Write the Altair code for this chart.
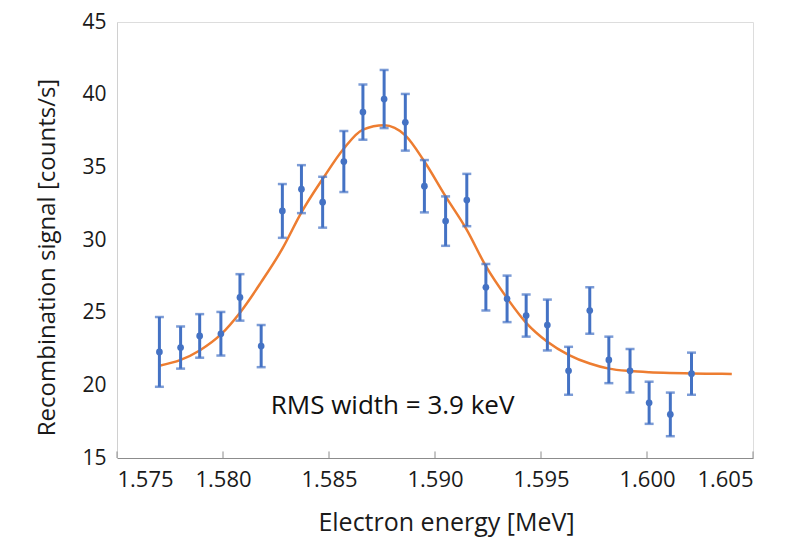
import altair as alt
import pandas as pd

# data points (Electron energy [MeV], signal [counts/s], error)
energy = [1.5770, 1.5780, 1.5789, 1.5799, 1.5808, 1.5818, 1.5828, 1.5837, 1.5847,
          1.5857, 1.5866, 1.5876, 1.5886, 1.5895, 1.5905, 1.5915, 1.5924, 1.5934,
          1.5943, 1.5953, 1.5963, 1.5973, 1.5982, 1.5992, 1.6001, 1.6011, 1.6021]
signal = [22.3, 22.6, 23.4, 23.55, 26.05, 22.7, 32.0, 33.5, 32.6,
          35.4, 38.8, 39.7, 38.1, 33.7, 31.3, 32.75, 26.75, 25.95,
          24.8, 24.15, 21.0, 25.15, 21.75, 21.0, 18.8, 18.0, 20.8]
error = [2.4, 1.45, 1.5, 1.5, 1.6, 1.45, 1.85, 1.65, 1.75,
         2.1, 1.9, 2.0, 1.95, 1.8, 1.7, 1.8, 1.6, 1.6,
         1.45, 1.75, 1.65, 1.6, 1.6, 1.5, 1.45, 1.5, 1.45]

# fitted curve
fit_energy = [1.5770, 1.5780, 1.5789, 1.5799, 1.5808, 1.5818, 1.5828, 1.5837, 1.5847,
              1.5857, 1.5866, 1.5876, 1.5886, 1.5895, 1.5905, 1.5915, 1.5924, 1.5934,
              1.5943, 1.5953, 1.5963, 1.5973, 1.5982, 1.5992, 1.6001, 1.6011, 1.6021,
              1.6030, 1.6040]
fit_signal = [21.35, 21.75, 22.4, 23.5, 25.0, 27.1, 29.4, 31.9, 34.2,
              36.3, 37.6, 37.9, 37.2, 35.4, 33.0, 30.7, 28.2, 26.0,
              24.3, 23.0, 22.1, 21.5, 21.15, 20.98, 20.9, 20.85, 20.82,
              20.8, 20.78]

x_ticks = [1.575, 1.580, 1.585, 1.590, 1.595, 1.600, 1.605]
y_ticks = [15, 20, 25, 30, 35, 40, 45]

annotation = ["RMS width = 3.9 keV"]
ann_x = [1.5880]
ann_y = [18.6]

pts = pd.DataFrame({"x": energy, "y": signal, "e": error})
pts["lo"] = pts["y"] - pts["e"]
pts["hi"] = pts["y"] + pts["e"]
fit = pd.DataFrame({"x": fit_energy, "y": fit_signal})
ann = pd.DataFrame({"x": ann_x, "y": ann_y, "t": annotation})
ticks = pd.DataFrame({"x": x_ticks})

BLUE = "#4472C4"
ORANGE = "#ED7D31"
FONT = "Open Sans"
TXT = "#1A1A1A"

xscale = alt.Scale(domain=[1.575, 1.605], nice=False, zero=False)
yscale = alt.Scale(domain=[15, 45], nice=False, zero=False)

xax = alt.Axis(title="Electron energy [MeV]", values=x_ticks,
               format=".3f", grid=False, domainColor="#8C8C8C", ticks=False,
               labelPadding=11, labelFontSize=22, titleFontSize=25,
               labelColor=TXT, titleColor=TXT, labelFont=FONT, titleFont=FONT,
               titlePadding=20, titleFontWeight="normal", titleX=329)
yax = alt.Axis(title="Recombination signal  [counts/s]", values=y_ticks,
               grid=False, domainColor="#D0D0D0", ticks=False, labelPadding=11,
               labelFontSize=21, titleFontSize=24, labelColor=TXT, titleColor=TXT,
               labelFont=FONT, titleFont=FONT, titlePadding=22, titleFontWeight="normal",
               titleY=235)

line = alt.Chart(fit).mark_line(color=ORANGE, strokeWidth=2.5, interpolate="monotone").encode(
    x=alt.X("x:Q", scale=xscale, axis=xax), y=alt.Y("y:Q", scale=yscale, axis=yax))

tickmarks = alt.Chart(ticks).mark_rule(color="#8C8C8C", strokeWidth=1).encode(
    x="x:Q", y=alt.datum(15), y2=alt.datum(15.45))

bars = alt.Chart(pts).mark_rule(color=BLUE, strokeWidth=3).encode(
    x="x:Q", y="lo:Q", y2="hi:Q")
cap_hi = alt.Chart(pts).mark_tick(color=BLUE, size=9, thickness=2.5, orient="horizontal").encode(
    x="x:Q", y="hi:Q")
cap_lo = alt.Chart(pts).mark_tick(color=BLUE, size=9, thickness=2.5, orient="horizontal").encode(
    x="x:Q", y="lo:Q")
dots = alt.Chart(pts).mark_circle(color=BLUE, size=45, opacity=1).encode(x="x:Q", y="y:Q")

text = alt.Chart(ann).mark_text(font=FONT, fontSize=26, color="#111111").encode(
    x="x:Q", y="y:Q", text="t:N")

chart = alt.layer(line, tickmarks, bars, cap_hi, cap_lo, dots, text).properties(
    width=636, height=436,
    autosize=alt.AutoSizeParams(type="none"),
    padding={"left": 109, "top": 14, "right": 25, "bottom": 85},
).configure_view(stroke=None).configure(background="white")

chart.save("out.html", embed_options={"renderer": "svg", "actions": False})
